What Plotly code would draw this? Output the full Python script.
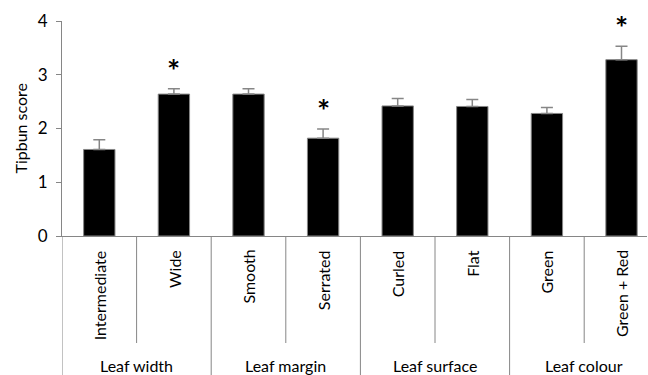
import plotly.graph_objects as go

categories = ["Intermediate", "Wide", "Smooth", "Serrated", "Curled", "Flat", "Green", "Green + Red"]
groups = ["Leaf width", "Leaf margin", "Leaf surface", "Leaf colour"]
scores = [1.61, 2.64, 2.64, 1.82, 2.42, 2.41, 2.28, 3.28]
errors = [0.18, 0.10, 0.10, 0.17, 0.14, 0.13, 0.11, 0.25]
significant = [False, True, False, True, False, False, False, True]
y_ticks = [0, 1, 2, 3, 4]

FONT = "Lato"
GRAY = "#868686"

idx = list(range(len(categories)))

fig = go.Figure()
fig.add_trace(go.Bar(
    x=idx, y=scores, width=0.42,
    marker=dict(color="black", line=dict(color=GRAY, width=1)),
    error_y=dict(type="data", symmetric=False, array=errors,
                 arrayminus=[0] * len(errors),
                 color=GRAY, thickness=1.5, width=6),
    showlegend=False,
))

annotations = []
shapes = []

# significance stars
for i, (s, e, sig) in enumerate(zip(scores, errors, significant)):
    if sig:
        annotations.append(dict(x=i, y=s + e, xref="x", yref="y", text="<b>*</b>",
                                showarrow=False, yanchor="bottom", yshift=-2,
                                font=dict(family=FONT, size=31, color="black")))

# category labels (rotated)
for i, c in enumerate(categories):
    annotations.append(dict(x=i, y=-0.056, xref="x", yref="paper", text=c,
                            textangle=-90, showarrow=False, yanchor="top",
                            xanchor="center",
                            font=dict(family=FONT, size=16, color="black")))

# group labels
n_per = len(categories) // len(groups)
for g, name in enumerate(groups):
    center = g * n_per + (n_per - 1) / 2
    annotations.append(dict(x=center, y=-0.604, xref="x", yref="paper", text=name,
                            showarrow=False, yanchor="middle", xanchor="center",
                            font=dict(family=FONT, size=16, color="black")))

# dividers
for k in range(len(categories)):
    b = k - 0.5
    if k % n_per == 0:
        y1 = -0.7
    else:
        y1 = -0.4977
    shapes.append(dict(type="line", xref="x", yref="paper", x0=b, x1=b, y0=0, y1=y1,
                       line=dict(color=GRAY, width=1)))

# y-axis title
annotations.append(dict(x=0, y=0.5, xref="paper", yref="paper", text="Tipbun score",
                        textangle=-90, showarrow=False, xanchor="center", yanchor="middle",
                        xshift=-42, font=dict(family=FONT, size=16, color="black")))

fig.update_layout(
    width=648, height=375,
    margin=dict(l=62, r=1, t=21, b=139),
    paper_bgcolor="white", plot_bgcolor="white",
    xaxis=dict(range=[-0.5, -0.5 + 585 / 74.6], showticklabels=False, ticks="",
               showgrid=False, zeroline=False, showline=True, linecolor=GRAY, linewidth=1),
    yaxis=dict(range=[0, 4], tickvals=y_ticks, ticks="outside", ticklen=5, tickcolor=GRAY,
               showgrid=False, zeroline=False, showline=True, linecolor=GRAY, linewidth=1,
               ticklabelstandoff=5,
               tickfont=dict(family=FONT, size=17, color="black")),
    annotations=annotations,
    shapes=shapes,
)

fig.write_html("out.html", config={"displayModeBar": False},
               post_script="document.body.style.margin='0';")
